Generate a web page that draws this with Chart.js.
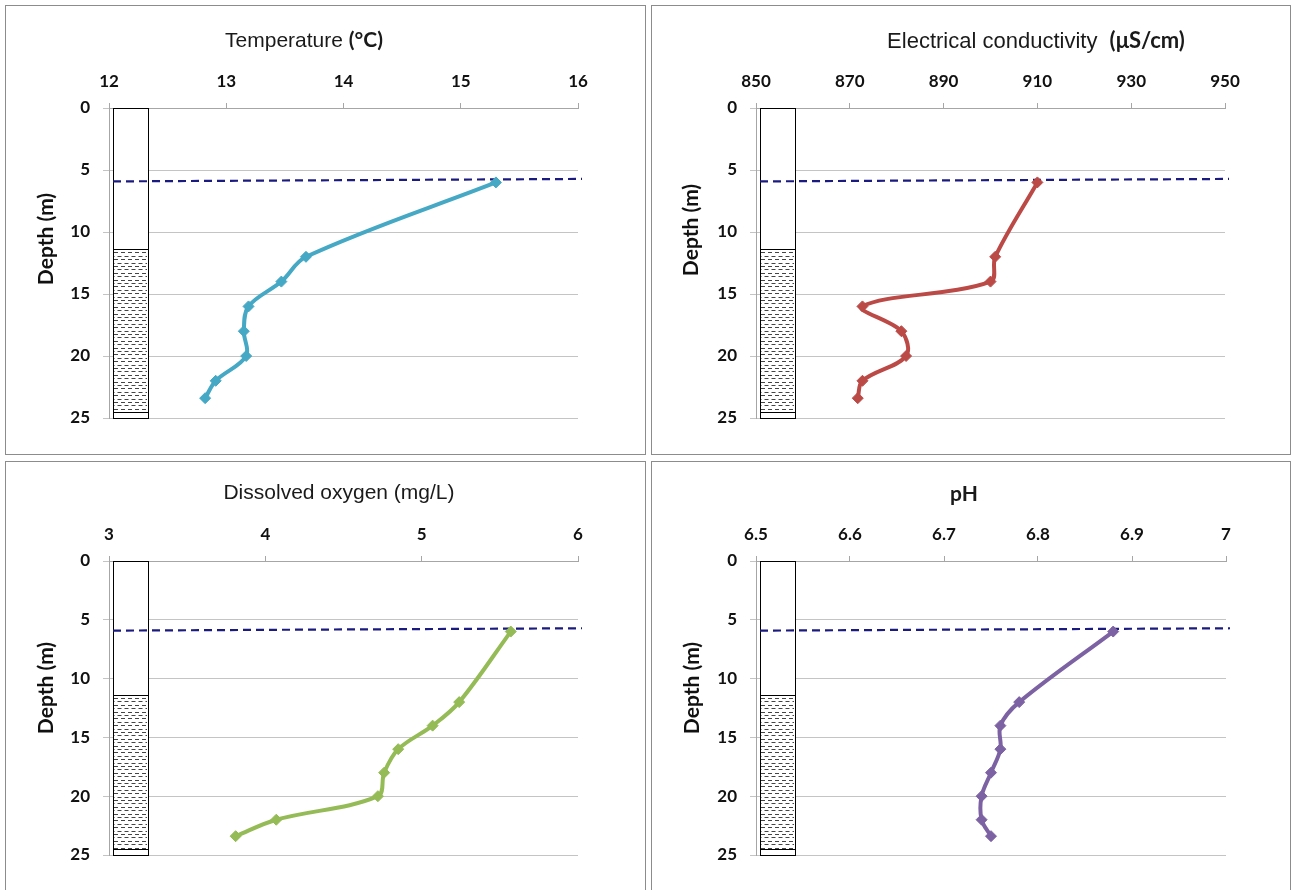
<!DOCTYPE html>
<html>
<head>
<meta charset="utf-8">
<script src="https://cdn.jsdelivr.net/npm/chart.js@4.4.0/dist/chart.umd.min.js"></script>
<style>
body { margin: 0; width: 1292px; height: 890px; overflow: hidden; background: #fff; font-family: "Liberation Sans", Arial, sans-serif; }
.panel { position: absolute; outline: 1px solid #8c8c8c; }
.title { position: absolute; font-size: 21px; color: #1a1a1a; white-space: nowrap; transform: translate(-50%, -50%); }
.title b { font-family: Lato, sans-serif; }
.depth { position: absolute; font-family: Lato, sans-serif; font-weight: bold; font-size: 21px; color: #111; white-space: nowrap; transform: translate(-50%, -50%) rotate(-90deg); }
</style>
</head>
<body>
<canvas id="tempChart" class="panel" width="639" height="448" style="left:6px;top:6px"></canvas>
<canvas id="ecChart" class="panel" width="638" height="448" style="left:652px;top:6px"></canvas>
<canvas id="doChart" class="panel" width="639" height="440" style="left:6px;top:462px"></canvas>
<canvas id="phChart" class="panel" width="638" height="440" style="left:652px;top:462px"></canvas>

<div class="title" style="left:304px;top:39px">Temperature <b>(°C)</b></div>
<div class="title" style="left:1036px;top:40px;font-size:22px">Electrical conductivity&nbsp; <b>(μS/cm)</b></div>
<div class="title" style="left:339px;top:492px">Dissolved oxygen (mg/L)</div>
<div class="title" style="left:964px;top:493px"><b>pH</b></div>

<div class="depth" style="left:44px;top:239px">Depth (m)</div>
<div class="depth" style="left:689px;top:230px">Depth (m)</div>
<div class="depth" style="left:44px;top:688px">Depth (m)</div>
<div class="depth" style="left:690px;top:688px">Depth (m)</div>

<script>
// sample depths (m) and measured profiles
const depths = [6, 12, 14, 16, 18, 20, 22, 23.4];
const temperature = [15.3, 13.68, 13.47, 13.19, 13.15, 13.17, 12.91, 12.82];
const conductivity = [910, 901, 900, 872.7, 881, 882, 872.7, 871.7];
const oxygen = [5.57, 5.24, 5.07, 4.85, 4.76, 4.72, 4.07, 3.81];
const ph = [6.88, 6.78, 6.76, 6.76, 6.75, 6.74, 6.74, 6.75];

// axis ticks
const depthTicks = [0, 5, 10, 15, 20, 25];
const tempTicks = [12, 13, 14, 15, 16];
const ecTicks = [850, 870, 890, 910, 930, 950];
const doTicks = [3, 4, 5, 6];
const phTicks = [6.5, 6.6, 6.7, 6.8, 6.9, 7];

// well log: open top, screened/sand section, bottom; water level (left, right end)
const layerDepths = [0, 11.4, 24.5, 25];
const waterLevel = [5.92, 5.72];

const tickFont = { family: 'Lato', weight: 'bold', size: 17 };

const lithoLog = {
    id: 'lithoLog',
    beforeDatasetsDraw(chart) {
        const { ctx, chartArea, scales } = chart;
        const y = scales.y;
        const left = chartArea.left + 4, w = 35;
        const top = y.getPixelForValue(layerDepths[0]);
        const sandTop = y.getPixelForValue(layerDepths[1]);
        const sandBot = y.getPixelForValue(layerDepths[2]);
        const bottom = y.getPixelForValue(layerDepths[3]);
        ctx.save();
        ctx.fillStyle = '#fff';
        ctx.fillRect(left, top, w, bottom - top);

        // dashed fill of the sand section
        ctx.strokeStyle = '#444';
        ctx.lineWidth = 1;
        let row = 0;
        for (let yy = sandTop + 3; yy < sandBot - 1; yy += 3.4, row++) {
            ctx.setLineDash([4, 3]);
            ctx.lineDashOffset = row % 2 ? 3.5 : 0;
            ctx.beginPath();
            ctx.moveTo(left + 1, Math.round(yy) + 0.5);
            ctx.lineTo(left + w - 1, Math.round(yy) + 0.5);
            ctx.stroke();
        }
        ctx.setLineDash([]);
        ctx.strokeStyle = '#000';
        ctx.strokeRect(Math.round(left) + 0.5, Math.round(top) + 0.5, w, Math.round(bottom - top));
        [sandTop, sandBot].forEach(v => {
            ctx.beginPath();
            ctx.moveTo(left, Math.round(v) + 0.5);
            ctx.lineTo(left + w, Math.round(v) + 0.5);
            ctx.stroke();
        });

        // water level
        ctx.strokeStyle = '#1a1a80';
        ctx.lineWidth = 2.2;
        ctx.setLineDash([8, 5]);
        ctx.beginPath();
        ctx.moveTo(left, y.getPixelForValue(waterLevel[0]));
        ctx.lineTo(chartArea.right + 4, y.getPixelForValue(waterLevel[1]));
        ctx.stroke();
        ctx.restore();
    }
};

function makeChart(id, values, ticks, color, g) {
    return new Chart(document.getElementById(id), {
        type: 'scatter',
        data: {
            datasets: [{
                data: depths.map((d, i) => ({ x: values[i], y: d })),
                showLine: true,
                borderColor: color,
                backgroundColor: color,
                borderWidth: 4,
                pointStyle: 'rectRot',
                pointRadius: 5.5,
                pointBorderWidth: 1,
                tension: 0.35
            }]
        },
        options: {
            responsive: false,
            animation: false,
            layout: { padding: { left: 0, top: 0, right: g.w - g.right, bottom: g.h - g.bottom } },
            scales: {
                x: {
                    type: 'linear',
                    position: 'top',
                    min: ticks[0],
                    max: ticks[ticks.length - 1],
                    afterBuildTicks: s => { s.ticks = ticks.map(v => ({ value: v })); },
                    afterFit: s => { s.height = g.top; },
                    grid: { drawOnChartArea: false, tickLength: 5, color: '#a6a6a6' },
                    border: { color: '#a6a6a6' },
                    ticks: { font: tickFont, color: '#111', padding: 11, maxRotation: 0, autoSkip: false, callback: v => String(v) }
                },
                y: {
                    type: 'linear',
                    reverse: true,
                    min: 0,
                    max: 25,
                    afterBuildTicks: s => { s.ticks = depthTicks.map(v => ({ value: v })); },
                    afterFit: s => { s.width = g.left; },
                    grid: { color: '#c4c4c4', tickLength: 6 },
                    border: { color: '#a6a6a6' },
                    ticks: { font: tickFont, color: '#111', padding: 13, callback: v => String(v) }
                }
            },
            plugins: {
                legend: { display: false },
                tooltip: { enabled: false }
            }
        },
        plugins: [lithoLog]
    });
}

makeChart('tempChart', temperature, tempTicks, '#45a8c4', { w: 639, h: 448, left: 103, right: 572, top: 102, bottom: 412 });
makeChart('ecChart', conductivity, ecTicks, '#bb4a47', { w: 638, h: 448, left: 104, right: 573, top: 102, bottom: 412 });
makeChart('doChart', oxygen, doTicks, '#94bb55', { w: 639, h: 440, left: 103, right: 572, top: 99, bottom: 393 });
makeChart('phChart', ph, phTicks, '#7c62a3', { w: 638, h: 440, left: 104, right: 574, top: 99, bottom: 393 });
</script>
</body>
</html>
